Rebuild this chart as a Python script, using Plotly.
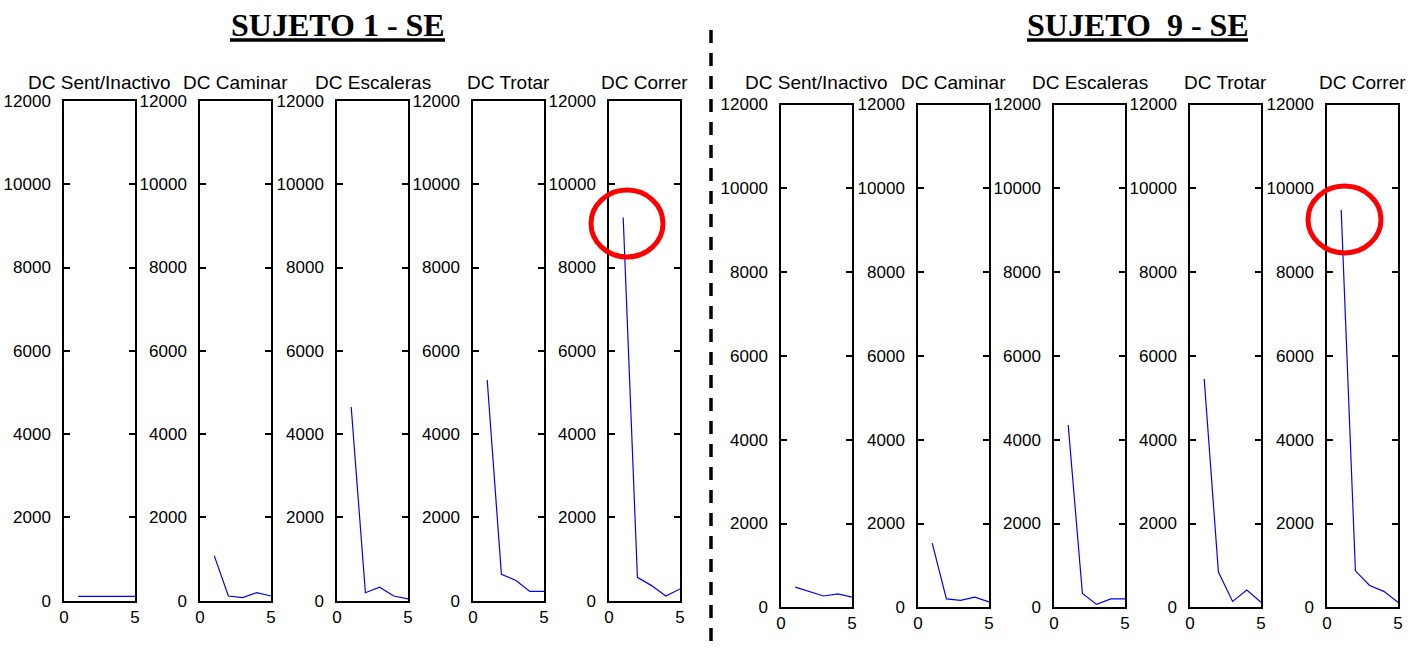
import plotly.graph_objects as go

# ---------------- data ----------------
activities = ["DC Sent/Inactivo", "DC Caminar", "DC Escaleras", "DC Trotar", "DC Correr"]
x_vals = [1, 2, 3, 4, 5]

s1_sent = [100, 100, 100, 100, 100]
s1_caminar = [1080, 110, 70, 190, 110]
s1_escaleras = [4650, 190, 320, 110, 40]
s1_trotar = [5300, 630, 490, 220, 220]
s1_correr = [9200, 560, 360, 110, 280]

s9_sent = [480, 370, 270, 320, 240]
s9_caminar = [1530, 200, 165, 240, 130]
s9_escaleras = [4350, 330, 70, 200, 200]
s9_trotar = [5450, 840, 140, 410, 120]
s9_correr = [9480, 870, 520, 380, 120]

group_titles = ["SUJETO 1 - SE", "SUJETO\u00a0\u00a09 - SE"]
y_ticks = [0, 2000, 4000, 6000, 8000, 10000, 12000]
x_ticks = [0, 5]

# ---------------- layout helpers ----------------
W, H = 1418, 650
def px(x):
    return x / W
def py(y):
    return 1 - y / H

groups = [
    dict(series=[s1_sent, s1_caminar, s1_escaleras, s1_trotar, s1_correr],
         lefts=[64, 200, 337, 473, 609], top=101, bottom=600.6, title_y=82,
         title=group_titles[0], title_cx=337.5, ul=(230, 445)),
    dict(series=[s9_sent, s9_caminar, s9_escaleras, s9_trotar, s9_correr],
         lefts=[781, 918, 1054, 1190, 1327], top=104.5, bottom=607.3, title_y=83,
         title=group_titles[1], title_cx=1137.5, ul=(1027, 1248)),
]
panel_w = 71

fig = go.Figure()
layout = dict(
    width=W, height=H,
    margin=dict(l=0, r=0, t=0, b=0),
    paper_bgcolor="white", plot_bgcolor="white",
    showlegend=False,
    font=dict(family="Liberation Sans, Arial, sans-serif", size=17, color="black"),
)
annotations = []
shapes = []

axis_common = dict(
    showgrid=False, zeroline=False,
    showline=True, linecolor="black", linewidth=1.5, mirror="ticks",
    ticks="inside", ticklen=6, tickwidth=1.5, tickcolor="black",
    tickfont=dict(family="Liberation Sans, Arial, sans-serif", size=17, color="black"),
    automargin=False, fixedrange=True,
)

idx = 0
for g in groups:
    for k, (vals, left) in enumerate(zip(g["series"], g["lefts"])):
        idx += 1
        xn = "x" if idx == 1 else f"x{idx}"
        yn = "y" if idx == 1 else f"y{idx}"
        fig.add_trace(go.Scatter(x=x_vals, y=vals, mode="lines",
                                 line=dict(color="#0000FF", width=1.2),
                                 xaxis=xn, yaxis=yn, hoverinfo="x+y"))
        layout["xaxis" if idx == 1 else f"xaxis{idx}"] = dict(
            axis_common, domain=[px(left), px(left + panel_w)], range=[0, 5],
            tickmode="array", tickvals=x_ticks, ticktext=[str(t) for t in x_ticks],
            anchor=yn, ticklabelstandoff=0)
        layout["yaxis" if idx == 1 else f"yaxis{idx}"] = dict(
            axis_common, domain=[py(g["bottom"]), py(g["top"])], range=[0, 12000],
            tickmode="array", tickvals=y_ticks, ticktext=[str(t) for t in y_ticks],
            anchor=xn, ticklabelstandoff=8)
        annotations.append(dict(
            text=activities[k], xref="paper", yref="paper",
            x=px(left + panel_w / 2), y=py(g["title_y"]),
            xanchor="center", yanchor="middle", showarrow=False,
            font=dict(family="Liberation Sans, Arial, sans-serif", size=19, color="black")))
    # group title
    annotations.append(dict(
        text="<b>" + g["title"] + "</b>", xref="paper", yref="paper",
        x=px(g["title_cx"]), y=py(25), xanchor="center", yanchor="middle",
        showarrow=False,
        font=dict(family="Liberation Serif, Times New Roman, serif", size=32, color="black")))
    shapes.append(dict(type="line", xref="paper", yref="paper",
                       x0=px(g["ul"][0]), x1=px(g["ul"][1]), y0=py(40), y1=py(40),
                       line=dict(color="black", width=3.5)))

# dashed separator
shapes.append(dict(type="line", xref="paper", yref="paper",
                   x0=px(711), x1=px(711), y0=py(30), y1=py(650),
                   line=dict(color="black", width=3.5, dash="13px,10px")))
# red highlight circles
shapes.append(dict(type="circle", xref="paper", yref="paper",
                   x0=px(591), x1=px(663), y0=py(190), y1=py(257),
                   line=dict(color="#FF0000", width=5)))
shapes.append(dict(type="circle", xref="paper", yref="paper",
                   x0=px(1308), x1=px(1381), y0=py(186), y1=py(253),
                   line=dict(color="#FF0000", width=5)))

layout["annotations"] = annotations
layout["shapes"] = shapes
fig.update_layout(**layout)
fig.write_html("out.html",
               config={"displayModeBar": False},
               post_script="document.body.style.margin='0';document.body.style.overflow='hidden';")
